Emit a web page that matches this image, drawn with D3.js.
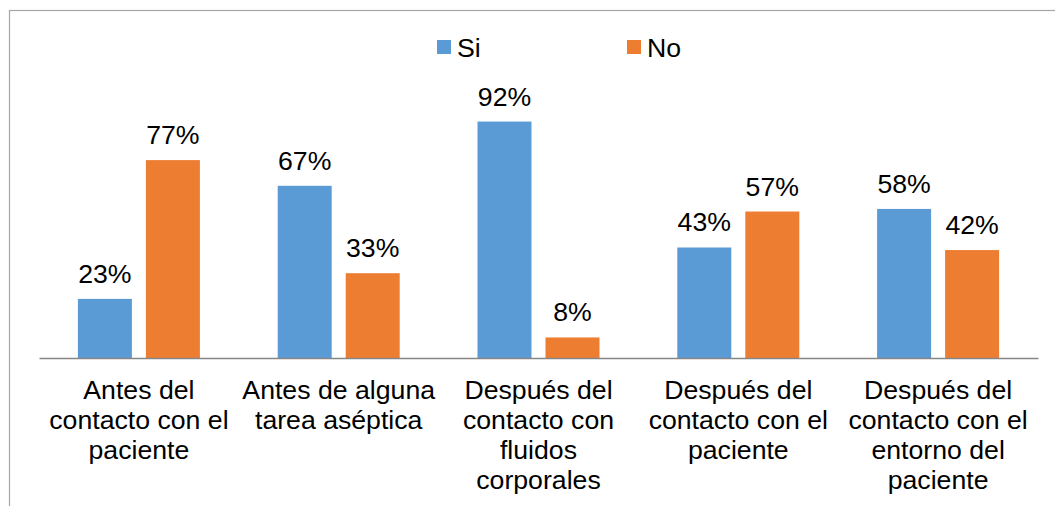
<!DOCTYPE html>
<html>
<head>
<meta charset="utf-8">
<script src="https://cdn.jsdelivr.net/npm/d3@7"></script>
<style>
  body { margin: 0; background: #fff; }
  text { font-family: "Liberation Sans", Arial, sans-serif; fill: #000; }
</style>
</head>
<body>
<div id="chart"></div>
<script>
// data
var categories = [
    ["Antes del", "contacto con el", "paciente"],
    ["Antes de alguna", "tarea aséptica"],
    ["Después del", "contacto con", "fluidos", "corporales"],
    ["Después del", "contacto con el", "paciente"],
    ["Después del", "contacto con el", "entorno del", "paciente"]
];
var seriesNames = ["Si", "No"];
var siValues = [23, 67, 92, 43, 58];
var noValues = [77, 33, 8, 57, 42];
var colors = ["#5B9BD5", "#ED7D31"];

var width = 1055, height = 506;
var margin = {top: 101, right: 17, bottom: 148, left: 39};
var plotWidth = width - margin.left - margin.right;
var plotHeight = height - margin.top - margin.bottom;
var fontSize = 26.67;

var dados = categories.map(function(c, i){
    return {cat: i, values: [siValues[i], noValues[i]]};
});

var svg = d3.select('#chart').append('svg')
    .attr('width', width).attr('height', height);

// outer frame of the chart area (cut by the picture edge on right/bottom)
svg.append('rect')
    .attr('x', 9.5).attr('y', 10.5)
    .attr('width', width + 10).attr('height', height + 10)
    .attr('fill', 'none').attr('stroke', '#a6a6a6').attr('stroke-width', 1.2);

var plotArea = svg.append('g')
    .attr('transform', 'translate(' + margin.left + ',' + margin.top + ')');

var x0 = d3.scaleBand().domain(d3.range(categories.length))
    .range([0, plotWidth]).padding(0);
var x1 = d3.scaleBand().domain(d3.range(seriesNames.length))
    .range([0, x0.bandwidth()]).paddingInner(0.206).paddingOuter(0.572);
var y = d3.scaleLinear().domain([0, 100]).range([plotHeight, 0]);

var groups = plotArea.selectAll('g.grp')
    .data(dados)
    .enter().append('g').attr('class', 'grp')
    .attr('transform', function(d){ return 'translate(' + x0(d.cat) + ',0)'; });

groups.selectAll('rect')
    .data(function(d){ return d.values; })
    .enter().append('rect')
    .attr('x', function(d, i){ return x1(i); })
    .attr('y', function(d){ return y(d); })
    .attr('width', x1.bandwidth())
    .attr('height', function(d){ return plotHeight - y(d); })
    .attr('fill', function(d, i){ return colors[i]; });

groups.selectAll('text.lbl')
    .data(function(d){ return d.values; })
    .enter().append('text').attr('class', 'lbl')
    .attr('x', function(d, i){ return x1(i) + x1.bandwidth() / 2; })
    .attr('y', function(d){ return y(d) - 16; })
    .attr('text-anchor', 'middle')
    .style('font-size', fontSize + 'px')
    .text(function(d){ return d + '%'; });

// x axis with multi-line category labels
var xAxis = plotArea.append('g')
    .attr('transform', 'translate(0,' + plotHeight + ')')
    .call(d3.axisBottom(x0).tickSize(0).tickSizeOuter(0).tickFormat(''));
xAxis.select('.domain').attr('stroke', '#868686').attr('stroke-width', 1.3);
xAxis.selectAll('.tick text').remove();
xAxis.selectAll('.tick').each(function(d){
    var t = d3.select(this).append('text')
        .attr('text-anchor', 'middle')
        .style('font-size', fontSize + 'px');
    categories[d].forEach(function(line, k){
        t.append('tspan').attr('x', 0).attr('y', 41 + k * 30).text(line);
    });
});

// legend
var legendX = [437, 627];
var legend = svg.append('g');
seriesNames.forEach(function(name, i){
    legend.append('rect')
        .attr('x', legendX[i]).attr('y', 40)
        .attr('width', 14).attr('height', 14)
        .attr('fill', colors[i]);
    legend.append('text')
        .attr('x', legendX[i] + 20).attr('y', 57)
        .style('font-size', fontSize + 'px')
        .text(name);
});
</script>
</body>
</html>
